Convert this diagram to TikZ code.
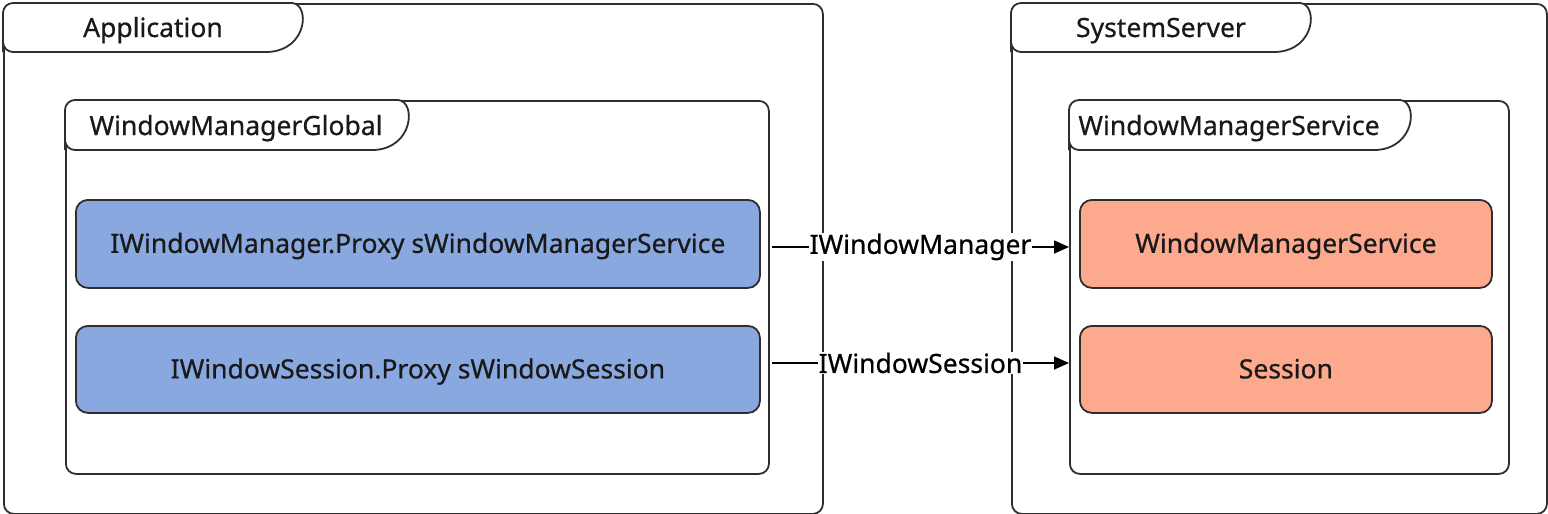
\documentclass[tikz,border=0pt]{standalone}
\usepackage{fontspec}
\setmainfont{Noto Sans}[FakeBold=0.6]
\usetikzlibrary{arrows.meta}
\definecolor{edge}{HTML}{2E2E2E}
\definecolor{bluefill}{HTML}{8AA8E0}
\definecolor{orangefill}{HTML}{FCA98E}
\tikzset{
  frame/.style={draw=edge, line width=1.8pt, rounded corners=10pt, anchor=north west, inner sep=0pt},
  tabshape/.style={draw=edge, line width=1.8pt, fill=white},
  tablabel/.style={font=\fontsize{26.5}{30}\selectfont, text=black!90, inner sep=0pt, anchor=base},
  bluebox/.style={draw=edge, line width=1.8pt, rounded corners=12pt, fill=bluefill, anchor=north west, inner sep=0pt},
  orangebox/.style={draw=edge, line width=1.8pt, rounded corners=12pt, fill=orangefill, anchor=north west, inner sep=0pt},
  conn/.style={draw=black, line width=1.6pt, -{Triangle[length=15pt,width=13pt]}},
  connlabel/.style={fill=white, inner sep=1pt, font=\fontsize{26.5}{30}\selectfont, text=black}
}
\begin{document}
\begin{tikzpicture}[x=1pt,y=-1pt]
\useasboundingbox (0,0) rectangle (1548,514);
% outer frames
\node[frame, minimum width=819pt, minimum height=510pt] (app) at (3,3) {};
\node[frame, minimum width=535pt, minimum height=510pt] (sys) at (1011,3) {};
% tabs outer
\draw[tabshape] (3,52) -- (3,13) arc[start angle=180,end angle=270,radius=10] -- (292,3) .. controls (310,4) and (308,50) .. (268,52) -- (13,52) arc[start angle=90,end angle=180,radius=10] -- cycle;
\node[tablabel] (applabel) at (153,37) {Application};
\draw[tabshape] (1011,52) -- (1011,13) arc[start angle=180,end angle=270,radius=10] -- (1300,3) .. controls (1318,4) and (1316,50) .. (1276,52) -- (1021,52) arc[start angle=90,end angle=180,radius=10] -- cycle;
\node[tablabel] (syslabel) at (1161,37) {SystemServer};
% inner containers
\node[frame, minimum width=703pt, minimum height=373pt] (wmg) at (65,100) {};
\node[frame, minimum width=439pt, minimum height=373pt] (wmsc) at (1069,100) {};
\draw[tabshape] (65,150) -- (65,110) arc[start angle=180,end angle=270,radius=10] -- (398,100) .. controls (416,101) and (414,148) .. (374,150) -- (75,150) arc[start angle=90,end angle=180,radius=10] -- cycle;
\node[tablabel] (wmglabel) at (236,135) {WindowManagerGlobal};
\draw[tabshape] (1069,150) -- (1069,110) arc[start angle=180,end angle=270,radius=10] -- (1400,100) .. controls (1418,101) and (1416,148) .. (1376,150) -- (1079,150) arc[start angle=90,end angle=180,radius=10] -- cycle;
\node[tablabel] (wmsclabel) at (1229,135) {WindowManagerService};
% boxes
\node[bluebox, minimum width=684pt, minimum height=88pt] (proxywm) at (75,199) {};
\node[tablabel] at ([yshift=-9pt]proxywm.center) {IWindowManager.Proxy sWindowManagerService};
\node[bluebox, minimum width=684pt, minimum height=87pt] (proxyws) at (75,325) {};
\node[tablabel] at ([yshift=-9pt]proxyws.center) {IWindowSession.Proxy sWindowSession};
\node[orangebox, minimum width=412pt, minimum height=88pt] (wms) at (1079,199) {};
\node[tablabel] at ([yshift=-9pt]wms.center) {WindowManagerService};
\node[orangebox, minimum width=412pt, minimum height=87pt] (sess) at (1079,325) {};
\node[tablabel] at ([yshift=-9pt]sess.center) {Session};
% connectors
\coordinate (s1) at (772,247);
\coordinate (s2) at (772,363);
\draw[conn] (s1) -- node[connlabel] {IWindowManager} (wmsc.west |- s1);
\draw[conn] (s2) -- node[connlabel] {IWindowSession} (wmsc.west |- s2);
\end{tikzpicture}
\end{document}
